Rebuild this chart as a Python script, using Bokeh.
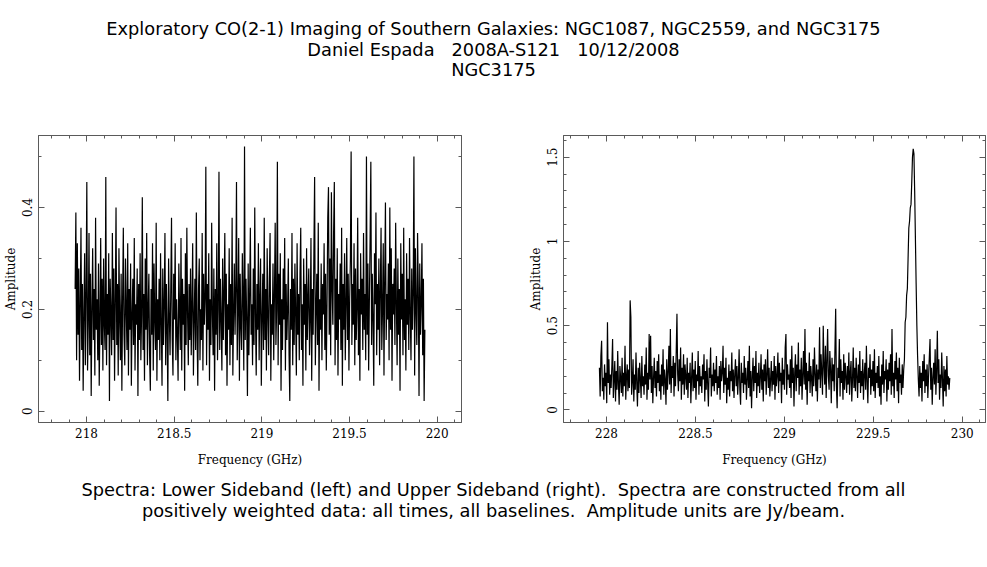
from bokeh.plotting import figure
from bokeh.models import (LinearAxis, SingleIntervalTicker, NumeralTickFormatter,
                          Range1d, Div)
from bokeh.layouts import column, row
from bokeh.embed import file_html
from bokeh.resources import INLINE

# ---------------- data ----------------
title_lines = ["Exploratory CO(2-1) Imaging of Southern Galaxies: NGC1087, NGC2559, and NGC3175",
               "Daniel Espada   2008A-S121   10/12/2008",
               "NGC3175"]
caption_lines = ["Spectra: Lower Sideband (left) and Upper Sideband (right).  Spectra are constructed from all",
                 "positively weighted data: all times, all baselines.  Amplitude units are Jy/beam."]

# Lower sideband: first channel frequency and channel spacing (GHz)
lsb_f0 = 217.935
lsb_df = 0.004165
lsb_amp = [
    0.24, 0.39, 0.10, 0.33, 0.15, 0.28, 0.06, 0.21, 0.36, 0.12, 0.25, 0.04, 0.19, 0.31, 0.09, 0.23, 0.45, 0.08, 0.17, 0.35,
    0.11, 0.27, 0.03, 0.20, 0.32, 0.14, 0.24, 0.07, 0.38, 0.16, 0.22, 0.10, 0.29, 0.05, 0.18, 0.34, 0.13, 0.26, 0.08, 0.30,
    0.17, 0.12, 0.46, 0.09, 0.23, 0.15, 0.31, 0.02, 0.26, 0.19, 0.11, 0.35, 0.14, 0.28, 0.06, 0.21, 0.40, 0.13, 0.25, 0.07,
    0.32, 0.18, 0.10, 0.27, 0.04, 0.22, 0.36, 0.15, 0.09, 0.30, 0.20, 0.12, 0.33, 0.07, 0.24, 0.16, 0.29, 0.05, 0.19, 0.26,
    0.13, 0.34, 0.08, 0.21, 0.17, 0.28, 0.03, 0.25, 0.14, 0.31, 0.10, 0.19, 0.42, 0.12, 0.23, 0.06, 0.30, 0.16, 0.35, 0.09,
    0.20, 0.27, 0.11, 0.04, 0.24, 0.15, 0.33, 0.08, 0.29, 0.18, 0.12, 0.37, 0.06, 0.22, 0.14, 0.26, 0.10, 0.31, 0.17, 0.05,
    0.28, 0.13, 0.21, 0.35, 0.09, 0.25, 0.16, 0.02, 0.30, 0.19, 0.11, 0.24, 0.38, 0.14, 0.07, 0.27, 0.18, 0.33, 0.10, 0.22,
    0.15, 0.06, 0.29, 0.20, 0.12, 0.34, 0.08, 0.26, 0.17, 0.23, 0.04, 0.31, 0.13, 0.36, 0.19, 0.09, 0.25, 0.14, 0.28, 0.11,
    0.21, 0.33, 0.07, 0.18, 0.26, 0.12, 0.39, 0.15, 0.05, 0.24, 0.30, 0.10, 0.20, 0.14, 0.35, 0.08, 0.27, 0.17, 0.22, 0.48,
    0.09, 0.25, 0.16, 0.31, 0.06, 0.22, 0.13, 0.37, 0.19, 0.11, 0.28, 0.04, 0.24, 0.15, 0.33, 0.10, 0.20, 0.47, 0.12, 0.26,
    0.18, 0.08, 0.30, 0.14, 0.23, 0.35, 0.11, 0.27, 0.05, 0.21, 0.16, 0.32, 0.09, 0.25, 0.13, 0.38, 0.07, 0.19, 0.29, 0.15,
    0.24, 0.45, 0.10, 0.20, 0.34, 0.06, 0.27, 0.17, 0.12, 0.31, 0.22, 0.08, 0.52, 0.14, 0.26, 0.18, 0.03, 0.29, 0.11, 0.23,
    0.36, 0.15, 0.21, 0.09, 0.28, 0.13, 0.40, 0.19, 0.07, 0.25, 0.16, 0.33, 0.10, 0.22, 0.30, 0.05, 0.18, 0.27, 0.12, 0.38,
    0.14, 0.24, 0.08, 0.32, 0.19, 0.11, 0.26, 0.35, 0.06, 0.21, 0.15, 0.29, 0.10, 0.23, 0.37, 0.13, 0.20, 0.49, 0.09, 0.27,
    0.17, 0.31, 0.04, 0.22, 0.12, 0.28, 0.18, 0.34, 0.08, 0.25, 0.14, 0.20, 0.30, 0.11, 0.02, 0.24, 0.16, 0.35, 0.09, 0.26,
    0.13, 0.29, 0.19, 0.07, 0.33, 0.15, 0.23, 0.10, 0.27, 0.36, 0.12, 0.21, 0.05, 0.30, 0.17, 0.25, 0.08, 0.32, 0.14, 0.22,
    0.28, 0.11, 0.18, 0.34, 0.06, 0.24, 0.15, 0.31, 0.46, 0.09, 0.20, 0.27, 0.13, 0.37, 0.04, 0.22, 0.16, 0.29, 0.10, 0.25,
    0.19, 0.33, 0.12, 0.27, 0.08, 0.21, 0.38, 0.44, 0.15, 0.30, 0.11, 0.43, 0.24, 0.17, 0.35, 0.45, 0.09, 0.26, 0.14, 0.32,
    0.07, 0.23, 0.18, 0.29, 0.12, 0.36, 0.05, 0.25, 0.16, 0.31, 0.10, 0.21, 0.34, 0.14, 0.27, 0.08, 0.22, 0.30, 0.51, 0.13,
    0.25, 0.17, 0.33, 0.09, 0.28, 0.14, 0.20, 0.38, 0.11, 0.24, 0.06, 0.31, 0.19, 0.26, 0.12, 0.35, 0.16, 0.23, 0.10, 0.50,
    0.15, 0.29, 0.08, 0.22, 0.34, 0.49, 0.13, 0.27, 0.18, 0.05, 0.31, 0.21, 0.39, 0.11, 0.25, 0.16, 0.30, 0.09, 0.24, 0.36,
    0.12, 0.20, 0.33, 0.07, 0.26, 0.41, 0.14, 0.23, 0.18, 0.29, 0.10, 0.40, 0.16, 0.32, 0.06, 0.25, 0.19, 0.28, 0.13, 0.37,
    0.21, 0.09, 0.30, 0.15, 0.24, 0.04, 0.33, 0.18, 0.27, 0.11, 0.36, 0.14, 0.22, 0.08, 0.31, 0.17, 0.26, 0.12, 0.34, 0.19,
    0.10, 0.28, 0.16, 0.23, 0.50, 0.07, 0.32, 0.20, 0.13, 0.35, 0.24, 0.03, 0.29, 0.15, 0.21, 0.33, 0.11, 0.26, 0.02, 0.16,
]

# Upper sideband
usb_f0 = 227.960
usb_df = 0.004113
usb_amp = [
    0.25, 0.08, 0.32, 0.41, 0.11, 0.19, 0.06, 0.27, 0.14, 0.22, 0.04, 0.52, 0.16, 0.30, 0.09, 0.21, 0.13, 0.26, 0.42, 0.07,
    0.18, 0.29, 0.05, 0.23, 0.12, 0.35, 0.15, 0.03, 0.26, 0.19, 0.10, 0.31, 0.08, 0.22, 0.14, 0.38, 0.06, 0.20, 0.27, 0.11,
    0.24, 0.13, 0.65, 0.55, 0.09, 0.17, 0.30, 0.05, 0.21, 0.12, 0.34, 0.16, 0.02, 0.25, 0.10, 0.28, 0.18, 0.07, 0.32, 0.14,
    0.20, 0.09, 0.27, 0.15, 0.37, 0.06, 0.22, 0.12, 0.45, 0.18, 0.44, 0.10, 0.26, 0.04, 0.19, 0.31, 0.13, 0.23, 0.08, 0.29,
    0.16, 0.33, 0.11, 0.21, 0.06, 0.27, 0.14, 0.36, 0.09, 0.24, 0.18, 0.03, 0.30, 0.12, 0.22, 0.38, 0.15, 0.48, 0.10, 0.26,
    0.19, 0.32, 0.08, 0.28, 0.14, 0.35, 0.57, 0.21, 0.11, 0.30, 0.17, 0.37, 0.06, 0.25, 0.15, 0.33, 0.09, 0.27, 0.20, 0.12,
    0.31, 0.07, 0.22, 0.16, 0.28, 0.04, 0.19, 0.34, 0.11, 0.24, 0.13, 0.29, 0.06, 0.21, 0.17, 0.35, 0.09, 0.26, 0.14, 0.20,
    0.10, 0.27, 0.18, 0.33, 0.05, 0.23, 0.12, 0.30, 0.15, 0.02, 0.25, 0.19, 0.37, 0.08, 0.21, 0.14, 0.28, 0.11, 0.24, 0.16,
    0.32, 0.09, 0.20, 0.13, 0.26, 0.06, 0.29, 0.17, 0.22, 0.38, 0.10, 0.25, 0.15, 0.31, 0.04, 0.19, 0.12, 0.27, 0.08, 0.23,
    0.17, 0.34, 0.11, 0.24, 0.07, 0.21, 0.30, 0.14, 0.26, 0.09, 0.19, 0.36, 0.12, 0.03, 0.28, 0.16, 0.22, 0.10, 0.32, 0.15,
    0.25, 0.06, 0.18, 0.29, 0.13, 0.38, 0.08, 0.23, 0.01, 0.20, 0.31, 0.11, 0.26, 0.16, 0.35, 0.07, 0.22, 0.14, 0.28, 0.10,
    0.19, 0.33, 0.12, 0.24, 0.05, 0.27, 0.17, 0.30, 0.09, 0.21, 0.36, 0.13, 0.25, 0.08, 0.18, 0.29, 0.11, 0.23, 0.15, 0.32,
    0.06, 0.26, 0.14, 0.20, 0.34, 0.10, 0.28, 0.17, 0.22, 0.04, 0.31, 0.15, 0.24, 0.12, 0.37, 0.45, 0.09, 0.27, 0.18, 0.21,
    0.13, 0.30, 0.07, 0.38, 0.16, 0.25, 0.02, 0.22, 0.33, 0.11, 0.27, 0.19, 0.40, 0.09, 0.24, 0.14, 0.31, 0.06, 0.21, 0.35,
    0.15, 0.48, 0.12, 0.28, 0.03, 0.23, 0.17, 0.34, 0.10, 0.26, 0.19, 0.08, 0.30, 0.14, 0.37, 0.21, 0.11, 0.27, 0.05, 0.24,
    0.18, 0.49, 0.13, 0.33, 0.22, 0.09, 0.50, 0.26, 0.15, 0.38, 0.07, 0.29, 0.48, 0.20, 0.12, 0.35, 0.24, 0.04, 0.31, 0.17,
    0.27, 0.11, 0.36, 0.60, 0.14, 0.01, 0.25, 0.19, 0.42, 0.08, 0.30, 0.16, 0.23, 0.06, 0.33, 0.12, 0.28, 0.20, 0.10, 0.26,
    0.15, 0.34, 0.09, 0.22, 0.29, 0.05, 0.18, 0.37, 0.13, 0.25, 0.11, 0.31, 0.20, 0.07, 0.27, 0.16, 0.35, 0.10, 0.23, 0.14,
    0.30, 0.06, 0.21, 0.28, 0.12, 0.38, 0.17, 0.04, 0.25, 0.19, 0.33, 0.09, 0.24, 0.14, 0.29, 0.11, 0.36, 0.07, 0.22, 0.16,
    0.26, 0.13, 0.32, 0.08, 0.20, 0.03, 0.27, 0.15, 0.35, 0.10, 0.23, 0.18, 0.30, 0.05, 0.24, 0.12, 0.28, 0.17, 0.33, 0.09,
    0.48, 0.14, 0.22, 0.07, 0.29, 0.18, 0.34, 0.11, 0.25, 0.04, 0.31, 0.16, 0.21, 0.09, 0.27, 0.13, 0.24, 0.30, 0.52, 0.55,
    0.68, 0.72, 0.90, 1.08, 1.12, 1.20, 1.22, 1.35, 1.50, 1.55, 1.52, 1.30, 1.02, 0.75, 0.50, 0.32, 0.18, 0.08, 0.26, 0.13,
    0.22, 0.05, 0.29, 0.17, 0.33, 0.10, 0.24, 0.14, 0.27, 0.07, 0.20, 0.31, 0.42, 0.12, 0.25, 0.03, 0.19, 0.28, 0.15, 0.36,
    0.09, 0.23, 0.47, 0.16, 0.30, 0.06, 0.21, 0.13, 0.34, 0.18, 0.02, 0.26, 0.11, 0.24, 0.08, 0.32, 0.15, 0.20, 0.12, 0.19,
]

lsb_freq = [lsb_f0 + i * lsb_df for i in range(len(lsb_amp))]
usb_freq = [usb_f0 + i * usb_df for i in range(len(usb_amp))]

# ---------------- styling ----------------
GRAY = "#5a5a5a"
AX_FONT = "DejaVu Serif"


def style_axis(ax, interval, minor, show_labels):
    ax.ticker = SingleIntervalTicker(interval=interval, num_minor_ticks=minor)
    ax.formatter = NumeralTickFormatter(format="0.[0]")
    ax.axis_line_color = GRAY
    ax.major_tick_line_color = GRAY
    ax.minor_tick_line_color = GRAY
    ax.major_tick_in = 6
    ax.major_tick_out = 0
    ax.minor_tick_in = 3
    ax.minor_tick_out = 0
    ax.major_label_text_font = AX_FONT
    ax.major_label_text_font_size = "12px"
    ax.major_label_text_color = "black"
    ax.axis_label_text_font = AX_FONT
    ax.axis_label_text_font_size = "12px"
    ax.axis_label_text_font_style = "normal"
    ax.axis_label_text_color = "black"
    if not show_labels:
        ax.major_label_text_font_size = "0px"
        ax.major_label_text_color = None
        ax.major_label_text_alpha = 0
        ax.major_label_standoff = 0


def make_panel(freq, amp, xr, yr, yint, yminor, width, bl, br):
    p = figure(width=width, height=372, output_backend="svg", toolbar_location=None,
               x_range=Range1d(*xr), y_range=Range1d(*yr),
               min_border_left=bl, min_border_right=br,
               min_border_top=27, min_border_bottom=58)
    p.xaxis.axis_label = "Frequency (GHz)"
    p.yaxis.axis_label = "Amplitude"
    p.grid.visible = False
    p.outline_line_color = GRAY
    p.outline_line_width = 1
    p.background_fill_color = "white"
    p.border_fill_color = "white"
    style_axis(p.xaxis[0], 0.5, 5, True)
    style_axis(p.yaxis[0], yint, yminor, True)
    p.xaxis.major_label_standoff = 5
    p.xaxis.axis_label_standoff = 12
    p.yaxis.major_label_orientation = "vertical"
    p.yaxis.major_label_standoff = 6
    p.yaxis.axis_label_standoff = 2
    top = LinearAxis()
    style_axis(top, 0.5, 5, False)
    p.add_layout(top, "above")
    rgt = LinearAxis()
    style_axis(rgt, yint, yminor, False)
    p.add_layout(rgt, "right")
    p.line(freq, amp, line_color="black", line_width=1.2)
    return p


p1 = make_panel(lsb_freq, lsb_amp, (217.726, 220.139), (-0.0222, 0.5414), 0.2, 2, 500, 38, 39)
p2 = make_panel(usb_freq, usb_amp, (227.758, 230.131), (-0.075, 1.629), 0.5, 5, 487, 63, 2)

FONT_CSS = ("font-family:'DejaVu Sans';font-size:17.8px;line-height:20.7px;"
            "text-align:center;white-space:pre;color:black;width:987px;")
title_html = '<div style="' + FONT_CSS + 'padding-top:19px;">' + "<br>".join(title_lines) + '</div>'
cap_html = '<div style="' + FONT_CSS + 'padding-top:0px;">' + "<br>".join(caption_lines) + '</div>'

title_div = Div(text=title_html, width=987, height=108, margin=(0, 0, 0, 0))
cap_div = Div(text=cap_html, width=987, height=60, margin=(0, 0, 0, 0))

layout = column(title_div, row(p1, p2), cap_div)

open("out.html", "w").write(file_html(layout, INLINE))
